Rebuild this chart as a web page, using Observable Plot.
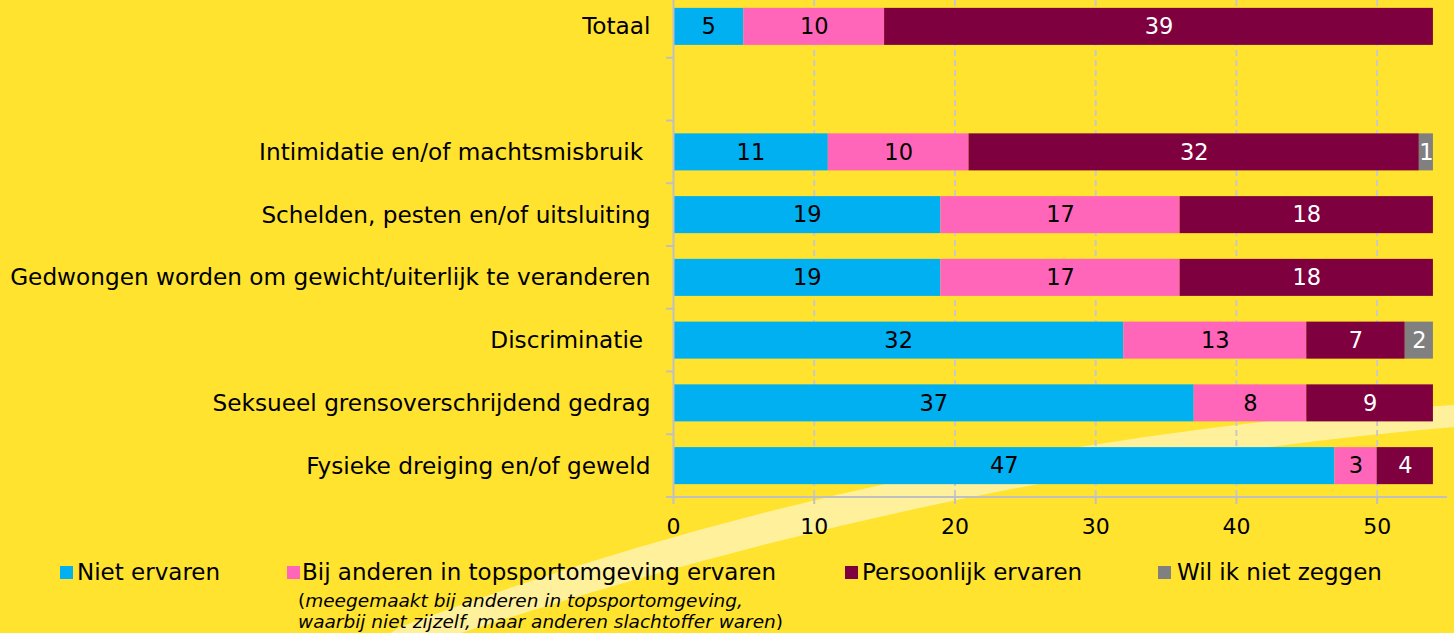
<!DOCTYPE html>
<html>
<head>
<meta charset="utf-8">
<script src="https://cdn.jsdelivr.net/npm/d3@7"></script>
<script src="https://cdn.jsdelivr.net/npm/@observablehq/plot@0.6"></script>
<style>
  html, body { margin: 0; padding: 0; }
  body { width: 1454px; height: 633px; overflow: hidden; background: #FFE32E; font-family: "DejaVu Sans", sans-serif; }
  #wrap { position: relative; width: 1454px; height: 633px; }
  #swoosh { position: absolute; left: 0; top: 0; }
  #chart { position: absolute; left: 0; top: 0; }
  #chart svg text { white-space: pre; }
  .leg { position: absolute; font-size: 23px; line-height: 28px; color: #000; white-space: nowrap; }
  .sw { position: absolute; width: 13px; height: 13px; }
  .note { position: absolute; font-size: 18.5px; font-style: italic; line-height: 21px; white-space: nowrap; }
</style>
</head>
<body>
<div id="wrap">
  <svg id="swoosh" width="1454" height="633">
    <path d="M 400 627 Q 900 440 1454 405 L 1454 427 Q 950 470 440 640 L 380 640 Z" fill="#FFF09C"/>
  </svg>
  <div id="chart"></div>
  <div id="legend"></div>
</div>
<script>
const categories = [
  "Totaal",
  "",
  "Intimidatie en/of machtsmisbruik ",
  "Schelden, pesten en/of uitsluiting",
  "Gedwongen worden om gewicht/uiterlijk te veranderen",
  "Discriminatie ",
  "Seksueel grensoverschrijdend gedrag",
  "Fysieke dreiging en/of geweld"
];
const series = [
  "Niet ervaren",
  "Bij anderen in topsportomgeving ervaren",
  "Persoonlijk ervaren",
  "Wil ik niet zeggen"
];
const nietErvaren      = [5,  null, 11, 19, 19, 32, 37, 47];
const bijAnderen       = [10, null, 10, 17, 17, 13, 8,  3];
const persoonlijk      = [39, null, 32, 18, 18, 7,  9,  4];
const wilNietZeggen    = [0,  null, 1,  0,  0,  2,  0,  0];
const xTicks = [0, 10, 20, 30, 40, 50];
const colors = ["#00B0F0", "#FF66BA", "#7F003F", "#808080"];
const legendNote = ["meegemaakt bij anderen in topsportomgeving,", "waarbij niet zijzelf, maar anderen slachtoffer waren"];

const valueSets = [nietErvaren, bijAnderen, persoonlijk, wilNietZeggen];
const data = [];
categories.forEach((c, i) => {
  series.forEach((s, j) => {
    const v = valueSets[j][i];
    if (v != null && v > 0) data.push({category: c, series: s, value: v, si: j});
  });
});

const chart = Plot.plot({
  width: 1454,
  height: 545,
  marginLeft: 673,
  marginRight: 7,
  marginTop: 0,
  marginBottom: 48,
  style: {background: "transparent", fontFamily: "DejaVu Sans", fontSize: "20px", color: "black", overflow: "visible"},
  x: {domain: [0, 55], axis: null},
  y: {domain: categories, range: [-5, 497], paddingInner: 0.41, paddingOuter: 0.205, round: false, axis: null},
  color: {domain: series, range: colors},
  marks: [
    Plot.ruleX(xTicks.slice(1), {stroke: "#C8C8C8", strokeWidth: 2, strokeDasharray: "6,4"}),
    Plot.barX(data, Plot.stackX({x: "value", y: "category", z: "series", fill: "series", inset: 0})),
    Plot.text(data, Plot.stackX({x: "value", y: "category", z: "series",
      text: d => d.si < 2 ? String(d.value) : "", fill: "black", fontSize: 22.5})),
    Plot.text(data, Plot.stackX({x: "value", y: "category", z: "series",
      text: d => d.si >= 2 ? String(d.value) : "", fill: "white", fontSize: 22.5})),
    Plot.ruleX([0], {stroke: "#C0C0C0", strokeWidth: 2}),
    Plot.axisX({ticks: xTicks, tickSize: 7, tickPadding: 14, stroke: "#C0C0C0", strokeWidth: 2, fill: "black", fontSize: 22, label: null, tickFormat: d => String(d)}),
    Plot.axisY({tickSize: 0, tickPadding: 23, fill: "black", fontSize: 23.2, label: null, tickFormat: d => d})
  ]
});
document.getElementById("chart").appendChild(chart);

// axis line along the bottom and band-boundary ticks on the y axis, placed with the plot's own scales
const xs = chart.scale("x"), ys = chart.scale("y");
const svg = d3.select(chart);
const x0 = xs.apply(0), xEnd = xs.apply(55);
const gap = (ys.step - ys.bandwidth) / 2;
const yBottom = ys.apply(categories[categories.length - 1]) + ys.bandwidth + gap;
const g = svg.append("g").attr("stroke", "#C0C0C0").attr("stroke-width", 2);
g.append("line").attr("x1", x0 - 7).attr("x2", xEnd).attr("y1", yBottom).attr("y2", yBottom);
categories.forEach(c => {
  const yb = ys.apply(c) + ys.bandwidth + gap;
  g.append("line").attr("x1", x0 - 7).attr("x2", x0).attr("y1", yb).attr("y2", yb);
});

// legend
const legend = document.getElementById("legend");
const swatchX = [60, 287, 845, 1158];
const textX = [77, 302, 862, 1177];
series.forEach((s, i) => {
  const sw = document.createElement("div");
  sw.className = "sw";
  sw.style.left = swatchX[i] + "px";
  sw.style.top = "566px";
  sw.style.background = colors[i];
  legend.appendChild(sw);
  const d = document.createElement("div");
  d.className = "leg";
  d.style.left = textX[i] + "px";
  d.style.top = "558px";
  d.textContent = s;
  legend.appendChild(d);
});
const note = document.createElement("div");
note.className = "note";
note.style.left = "298px";
note.style.top = "590px";
note.innerHTML = `<span style="font-style:normal">(</span>${legendNote[0]}<br>${legendNote[1]}<span style="font-style:normal">)</span>`;
legend.appendChild(note);
</script>
</body>
</html>
